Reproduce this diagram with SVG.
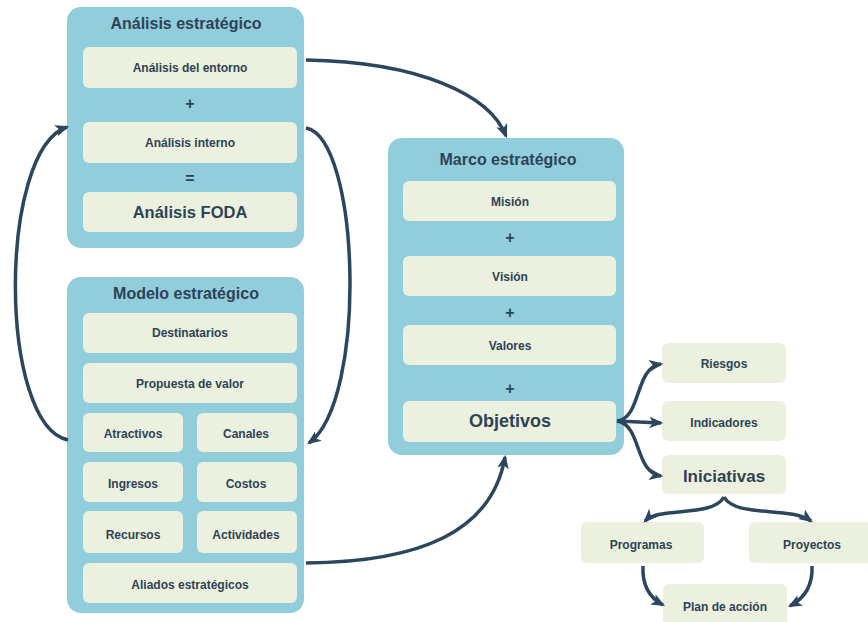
<svg xmlns="http://www.w3.org/2000/svg" width="868" height="622" viewBox="0 0 868 622">
<defs>
<style>
.outer{fill:#92cddc}
.inner{fill:#ebf1de}
text{font-family:"Liberation Sans",Arial,sans-serif;font-weight:bold;fill:#2e4356;text-anchor:middle;dominant-baseline:central}
.t{font-size:16px}
.s{font-size:12px}
.b{font-size:16.5px}
.op{font-size:16px}
.c{fill:none;stroke:#2c465d;stroke-width:3.5}
</style>
<marker id="ah" viewBox="0 0 12 10" markerWidth="14" markerHeight="12" refX="10" refY="5" orient="auto" markerUnits="userSpaceOnUse">
<path d="M0,0 L12,5 L0,10 L3,5 z" fill="#2c465d"/>
</marker>
</defs>
<rect width="868" height="622" fill="#ffffff"/>

<g id="analisis">
<rect class="outer" x="67" y="7" width="237" height="241" rx="14"/>
<text class="t" x="186" y="23">Análisis estratégico</text>
<rect class="inner" x="83" y="47" width="214" height="41" rx="6"/>
<text class="s" x="190" y="68">Análisis del entorno</text>
<text class="op" x="190" y="103">+</text>
<rect class="inner" x="83" y="122" width="214" height="41" rx="6"/>
<text class="s" x="190" y="143">Análisis interno</text>
<text class="op" x="190" y="178">=</text>
<rect class="inner" x="83" y="192" width="214" height="40" rx="6"/>
<text class="b" x="190" y="212">Análisis FODA</text>
</g>

<g id="modelo">
<rect class="outer" x="67" y="277" width="237" height="336" rx="14"/>
<text class="t" x="186" y="293">Modelo estratégico</text>
<rect class="inner" x="83" y="313" width="214" height="40" rx="6"/>
<text class="s" x="190" y="333">Destinatarios</text>
<rect class="inner" x="83" y="363" width="214" height="40" rx="6"/>
<text class="s" x="190" y="384">Propuesta de valor</text>
<rect class="inner" x="83" y="413" width="100" height="39" rx="6"/>
<text class="s" x="133" y="434">Atractivos</text>
<rect class="inner" x="197" y="413" width="100" height="39" rx="6"/>
<text class="s" x="246" y="434">Canales</text>
<rect class="inner" x="83" y="462" width="100" height="40" rx="6"/>
<text class="s" x="133" y="484">Ingresos</text>
<rect class="inner" x="197" y="462" width="100" height="40" rx="6"/>
<text class="s" x="246" y="484">Costos</text>
<rect class="inner" x="83" y="511" width="100" height="42" rx="6"/>
<text class="s" x="133" y="535">Recursos</text>
<rect class="inner" x="197" y="511" width="100" height="42" rx="6"/>
<text class="s" x="246" y="535">Actividades</text>
<rect class="inner" x="83" y="563" width="214" height="40" rx="6"/>
<text class="s" x="190" y="585">Aliados estratégicos</text>
</g>

<g id="marco">
<rect class="outer" x="388" y="138" width="236" height="317" rx="14"/>
<text class="t" x="508" y="159">Marco estratégico</text>
<rect class="inner" x="403" y="181" width="213" height="40" rx="6"/>
<text class="s" x="510" y="202">Misión</text>
<text class="op" x="510" y="237">+</text>
<rect class="inner" x="403" y="256" width="213" height="40" rx="6"/>
<text class="s" x="510" y="277">Visión</text>
<text class="op" x="510" y="312">+</text>
<rect class="inner" x="403" y="325" width="213" height="40" rx="6"/>
<text class="s" x="510" y="346">Valores</text>
<text class="op" x="510" y="388">+</text>
<rect class="inner" x="403" y="401" width="213" height="41" rx="6"/>
<text x="510" y="421" style="font-size:18px">Objetivos</text>
</g>

<g id="riesgos">
<rect class="inner" x="662" y="343" width="124" height="40" rx="6"/>
<text class="s" x="724" y="364">Riesgos</text>
</g>
<g id="indicadores">
<rect class="inner" x="662" y="401" width="124" height="40" rx="6"/>
<text class="s" x="724" y="423">Indicadores</text>
</g>
<g id="iniciativas">
<rect class="inner" x="662" y="455" width="124" height="39" rx="6"/>
<text x="724" y="476" style="font-size:17px">Iniciativas</text>
</g>
<g id="programas">
<rect class="inner" x="581" y="522" width="123" height="41" rx="6"/>
<text class="s" x="641" y="545">Programas</text>
</g>
<g id="proyectos">
<rect class="inner" x="749" y="522" width="124" height="41" rx="6"/>
<text class="s" x="812" y="545">Proyectos</text>
</g>
<g id="plan">
<rect class="inner" x="663" y="584" width="124" height="44" rx="6"/>
<text class="s" x="725" y="607">Plan de acción</text>
</g>

<g id="connectors">
<path class="c" marker-end="url(#ah)" d="M306,60 C420,62 490,95 506,136"/>
<path class="c" marker-end="url(#ah)" d="M306,128 C360,138 368,400 309,443"/>
<path class="c" marker-end="url(#ah)" d="M68,440 C-2,425 -2,150 67,127"/>
<path class="c" marker-end="url(#ah)" d="M306,563 C420,562 492,532 505,457"/>
<path class="c" marker-end="url(#ah)" d="M617,421 C642,418 634,368 661,364"/>
<path class="c" marker-end="url(#ah)" d="M617,421 L661,423"/>
<path class="c" marker-end="url(#ah)" d="M617,421 C642,425 634,472 661,476"/>
<path class="c" marker-end="url(#ah)" d="M724,497 C712,518 660,506 645,521"/>
<path class="c" marker-end="url(#ah)" d="M724,497 C736,518 790,506 811,521"/>
<path class="c" marker-end="url(#ah)" d="M643,566 C642,586 650,598 663,605"/>
<path class="c" marker-end="url(#ah)" d="M812,566 C813,586 805,598 790,606"/>
</g>
</svg>
